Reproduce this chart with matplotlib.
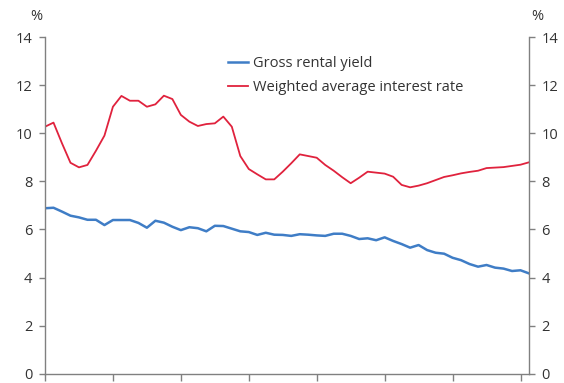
import matplotlib
matplotlib.use("Agg")
import matplotlib.pyplot as plt
import numpy as np

plt.rcParams['font.family'] = ['Open Sans', 'DejaVu Sans']

# Quarterly observations (index 0..57)
gross_rental_yield = [
    6.88, 6.90, 6.74, 6.57, 6.50, 6.40, 6.40, 6.18, 6.39, 6.39,
    6.39, 6.27, 6.07, 6.36, 6.28, 6.11, 5.97, 6.09, 6.05, 5.92,
    6.15, 6.14, 6.03, 5.92, 5.89, 5.77, 5.86, 5.78, 5.77, 5.73,
    5.80, 5.78, 5.75, 5.73, 5.82, 5.82, 5.73, 5.60, 5.63, 5.55,
    5.67, 5.52, 5.39, 5.24, 5.35, 5.14, 5.03, 4.99, 4.82, 4.72,
    4.56, 4.45, 4.52, 4.41, 4.37, 4.27, 4.30, 4.17,
]
weighted_avg_interest_rate = [
    10.27, 10.44, 9.58, 8.77, 8.58, 8.68, 9.27, 9.90, 11.10, 11.55,
    11.35, 11.35, 11.10, 11.20, 11.56, 11.42, 10.76, 10.48, 10.30, 10.38,
    10.41, 10.69, 10.27, 9.05, 8.51, 8.29, 8.08, 8.08, 8.40, 8.75,
    9.12, 9.05, 8.98, 8.68, 8.44, 8.17, 7.92, 8.15, 8.40, 8.36,
    8.32, 8.19, 7.85, 7.75, 7.82, 7.92, 8.05, 8.18, 8.25, 8.33,
    8.39, 8.44, 8.55, 8.57, 8.59, 8.64, 8.69, 8.79,
]
series_labels = ["Gross rental yield", "Weighted average interest rate"]
y_ticks = [0, 2, 4, 6, 8, 10, 12, 14]

blue = "#3F7DC6"
red = "#E0223D"
axis_grey = "#808080"
text_col = "#333333"

x = np.arange(len(gross_rental_yield))

fig = plt.figure(figsize=(5.64, 3.83), dpi=100)
ax = fig.add_axes([45 / 564, 1 - 373.7 / 383, 484 / 564, 336.7 / 383])

ax.plot(x, gross_rental_yield, color=blue, lw=1.8, label=series_labels[0],
        solid_joinstyle="round")
ax.plot(x, weighted_avg_interest_rate, color=red, lw=1.3, label=series_labels[1],
        solid_joinstyle="round")

ax.set_xlim(0, len(x) - 1)
ax.set_ylim(0, 14)
ax.set_yticks(y_ticks)
ax.set_xticks(np.arange(0, len(x), 8))
ax.set_xticklabels([])

for s in ["left", "right", "bottom"]:
    ax.spines[s].set_color(axis_grey)
    ax.spines[s].set_linewidth(1.0)
ax.spines["top"].set_visible(False)

ax.tick_params(axis="y", which="both", left=True, right=True, labelleft=True,
               labelright=True, direction="out", length=4, width=1,
               color=axis_grey, labelcolor=text_col, labelsize=10.5, pad=5)
ax.tick_params(axis="x", direction="out", length=5, width=1, color=axis_grey)

fig.text(36 / 564, 1 - 16 / 383, "%", ha="center", va="center",
         fontsize=10.5, color=text_col)
fig.text(537 / 564, 1 - 16 / 383, "%", ha="center", va="center",
         fontsize=10.5, color=text_col)

leg = ax.legend(loc="upper left", bbox_to_anchor=(0.366, 0.961), frameon=False,
                fontsize=10.5, handlelength=1.4, handletextpad=0.3,
                labelspacing=0.65, borderaxespad=0)
for t in leg.get_texts():
    t.set_color(text_col)

fig.savefig("out.png", dpi=100)
